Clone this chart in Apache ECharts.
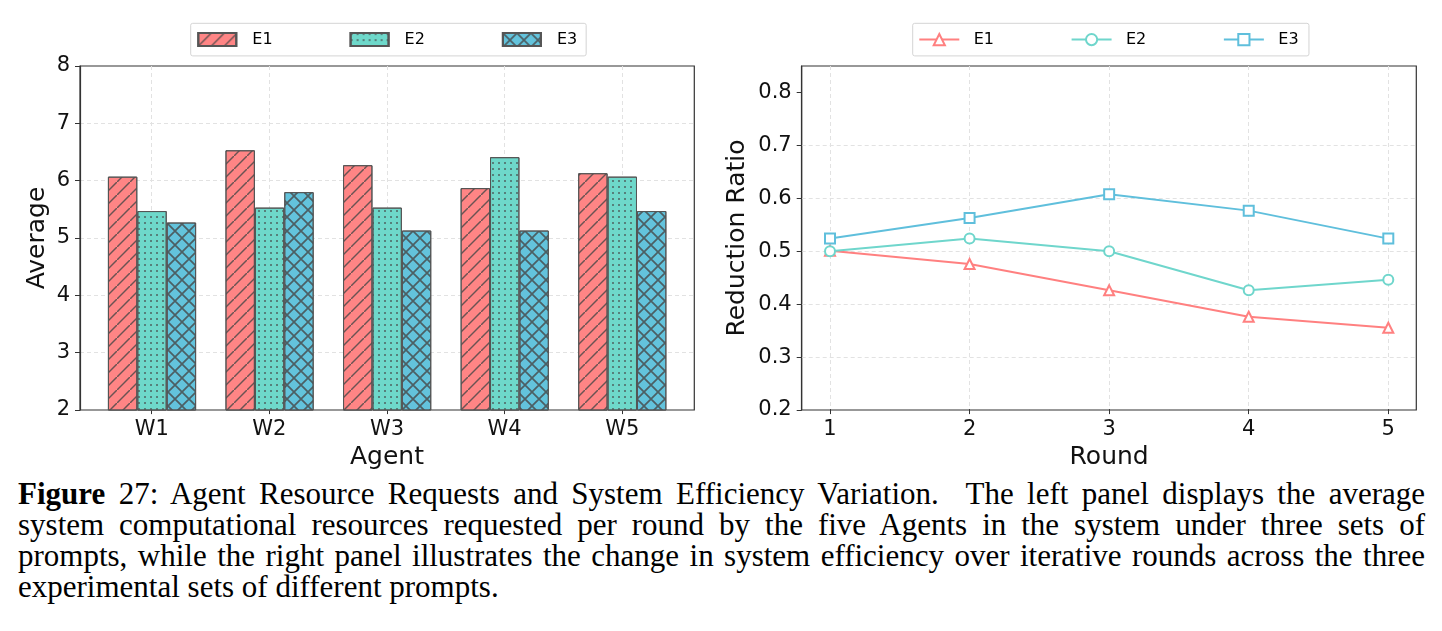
<!DOCTYPE html>
<html>
<head>
<meta charset="utf-8">
<script src="https://cdn.jsdelivr.net/npm/echarts@6/dist/echarts.min.js"></script>
<style>
  html, body { margin: 0; padding: 0; background: #fff; }
  #chart { position: absolute; left: 0; top: 0; width: 1442px; height: 475px; }
  .caption {
    position: absolute; left: 18px; top: 478px; width: 1407px;
    font-family: "Liberation Serif", serif; font-size: 31px; line-height: 31px; color: #000;
  }
  .caption div { text-align: justify; text-align-last: justify; white-space: nowrap; }
  .caption div.last { text-align: left; text-align-last: left; }
</style>
</head>
<body>
<div id="chart"></div>
<div class="caption">
  <div><b>Figure</b> 27: Agent Resource Requests and System Efficiency Variation. &nbsp;The left panel displays the average</div>
  <div>system computational resources requested per round by the five Agents in the system under three sets of</div>
  <div>prompts, while the right panel illustrates the change in system efficiency over iterative rounds across the three</div>
  <div class="last">experimental sets of different prompts.</div>
</div>
<script>
// 数据
const agents = ["W1", "W2", "W3", "W4", "W5"];
const barE1 = [6.07, 6.53, 6.27, 5.87, 6.13];
const barE2 = [5.47, 5.53, 5.53, 6.41, 6.07];
const barE3 = [5.27, 5.80, 5.13, 5.13, 5.47];

const rounds = ["1", "2", "3", "4", "5"];
const lineE1 = [0.500, 0.475, 0.425, 0.375, 0.354];
const lineE2 = [0.499, 0.523, 0.499, 0.425, 0.445];
const lineE3 = [0.523, 0.562, 0.607, 0.576, 0.523];

const ratioTicks = [0.2, 0.3, 0.4, 0.5, 0.6, 0.7, 0.8];

const FONT = "DejaVu Sans";
const colors = { e1: "#FF8585", e2: "#6ED8CA", e3: "#63C3DC" };
const lineColors = { e1: "#FF8080", e2: "#6FD6CC", e3: "#5FBFDC" };
const hatchColor = "rgba(70,70,70,0.8)";

// 花纹 (decal)
const decalHatch = {
  symbol: "path://M0,10L0,9.2L9.2,0L10,0L10,0.8L0.8,10Z",
  symbolSize: 1, symbolKeepAspect: false,
  dashArrayX: [[13, 0]], dashArrayY: [13, 0], color: hatchColor,
};
const decalDots = {
  symbol: "circle", symbolSize: 1,
  dashArrayX: [[2, 4]], dashArrayY: [2, 4], color: hatchColor,
};
const decalCross = {
  symbol: "path://M0,0L0.85,0L10,9.15L10,10L9.15,10L0,0.85Z M10,0L10,0.85L0.85,10L0,10L0,9.15L9.15,0Z",
  symbolSize: 1, symbolKeepAspect: false,
  dashArrayX: [[14, 0]], dashArrayY: [14, 0], color: hatchColor,
};

const tickLabel = { fontFamily: FONT, fontSize: 21, color: "#111" };
const nameStyle = { fontFamily: FONT, fontSize: 25, color: "#111" };
const dashed = {
  show: true, showMinLine: false, showMaxLine: false,
  lineStyle: { color: "#e2e2e2", type: [4, 3], width: 1 },
};

const chart = echarts.init(document.getElementById("chart"));

// 柱子画在数值型 x 轴上，位置 = 类目序号
const barSeries = (name, data, color, decal) => ({
  name, type: "bar",
  data: data.map((v, i) => [i, v]),
  xAxisIndex: 0, yAxisIndex: 0,
  barWidth: 29.4, barGap: "0%",
  itemStyle: { color, borderColor: "#555", borderWidth: 1, decal },
  emphasis: { disabled: true },
});

const lineSeries = (name, data, color, symbol) => ({
  name, type: "line", data,
  xAxisIndex: 3, yAxisIndex: 3,
  clip: false,
  symbol, symbolSize: 10,
  lineStyle: { color, width: 2 },
  itemStyle: { color, borderColor: color, borderWidth: 1.6 },
  emphasis: { disabled: true },
});

chart.setOption({
  animation: false,
  textStyle: { fontFamily: FONT },
  legend: [
    {
      data: ["E1", "E2", "E3"],
      left: 190.7, top: 23.3,
      padding: [8.3, 9, 8.3, 6.6],
      itemWidth: 38, itemHeight: 13, itemGap: 77,
      icon: "rect",
      borderColor: "#d4d4d4", borderWidth: 1, borderRadius: 2,
      textStyle: { fontFamily: FONT, fontSize: 16, color: "#000", lineHeight: 16, padding: [0, 0, 0, 11] },
      selectedMode: false,
    },
    {
      data: ["L-E1", "L-E2", "L-E3"],
      formatter: (n) => n.replace("L-", ""),
      left: 912.7, top: 23.3,
      padding: [8.3, 10.4, 8.3, 5.6],
      itemWidth: 40, itemHeight: 14, itemGap: 76.6,
      borderColor: "#d4d4d4", borderWidth: 1, borderRadius: 2,
      textStyle: { fontFamily: FONT, fontSize: 16, color: "#000", lineHeight: 16, padding: [0, 0, 0, 9.4] },
      selectedMode: false,
    },
  ],
  grid: [
    // 左图：边框 + 柱子
    { left: 80, top: 66, width: 614.3, height: 344, show: true, borderColor: "#333", borderWidth: 1.2, backgroundColor: "transparent" },
    // 左图：类目刻度
    { left: 151.7, top: 66, width: 470.6, height: 344 },
    // 右图边框
    { left: 801.7, top: 66, width: 614.6, height: 344, show: true, borderColor: "#333", borderWidth: 1.2, backgroundColor: "transparent" },
    // 右图折线
    { left: 830, top: 66, width: 558.3, height: 344 },
  ],
  xAxis: [
    { gridIndex: 0, type: "value", min: -0.6125, max: 4.6125, show: false },
    {
      gridIndex: 1, type: "category", data: agents, boundaryGap: false,
      name: "Agent", nameLocation: "middle", nameGap: 32, nameTextStyle: nameStyle,
      axisLine: { show: false },
      axisTick: { show: true, length: 5, lineStyle: { color: "#333" } },
      axisLabel: { ...tickLabel, margin: 10 },
      splitLine: { ...dashed, showMinLine: true, showMaxLine: true },
    },
    { gridIndex: 2, type: "value", show: false },
    {
      gridIndex: 3, type: "category", data: rounds, boundaryGap: false,
      name: "Round", nameLocation: "middle", nameGap: 32, nameTextStyle: nameStyle,
      axisLine: { show: false },
      axisTick: { show: true, length: 5, lineStyle: { color: "#333" } },
      axisLabel: { ...tickLabel, margin: 10 },
      splitLine: { ...dashed, showMinLine: true, showMaxLine: true },
    },
  ],
  yAxis: [
    {
      gridIndex: 0, type: "value", min: 2, max: 8, interval: 1,
      name: "Average", nameLocation: "middle", nameGap: 30, nameTextStyle: nameStyle,
      axisLine: { show: true, onZero: false, lineStyle: { color: "#333", width: 1.2 } },
      axisTick: { show: true, length: 5, lineStyle: { color: "#333" } },
      axisLabel: { ...tickLabel, margin: 10 },
      splitLine: dashed,
    },
    { gridIndex: 1, type: "value", min: 2, max: 8, show: false, splitLine: { show: false } },
    {
      gridIndex: 2, type: "value", min: 0.2, max: 0.85, interval: 0.1,
      name: "Reduction Ratio", nameLocation: "middle", nameGap: 52, nameTextStyle: nameStyle,
      axisLine: { show: true, onZero: false, lineStyle: { color: "#333", width: 1.2 } },
      axisTick: { show: true, length: 5, lineStyle: { color: "#333" }, customValues: ratioTicks },
      axisLabel: { ...tickLabel, margin: 10, customValues: ratioTicks, formatter: (v) => v.toFixed(1) },
      splitLine: dashed,
    },
    { gridIndex: 3, type: "value", min: 0.2, max: 0.85, show: false, splitLine: { show: false } },
  ],
  series: [
    barSeries("E1", barE1, colors.e1, decalHatch),
    barSeries("E2", barE2, colors.e2, decalDots),
    barSeries("E3", barE3, colors.e3, decalCross),
    lineSeries("L-E1", lineE1, lineColors.e1, "emptyTriangle"),
    lineSeries("L-E2", lineE2, lineColors.e2, "emptyCircle"),
    lineSeries("L-E3", lineE3, lineColors.e3, "emptyRect"),
  ],
});
</script>
</body>
</html>
